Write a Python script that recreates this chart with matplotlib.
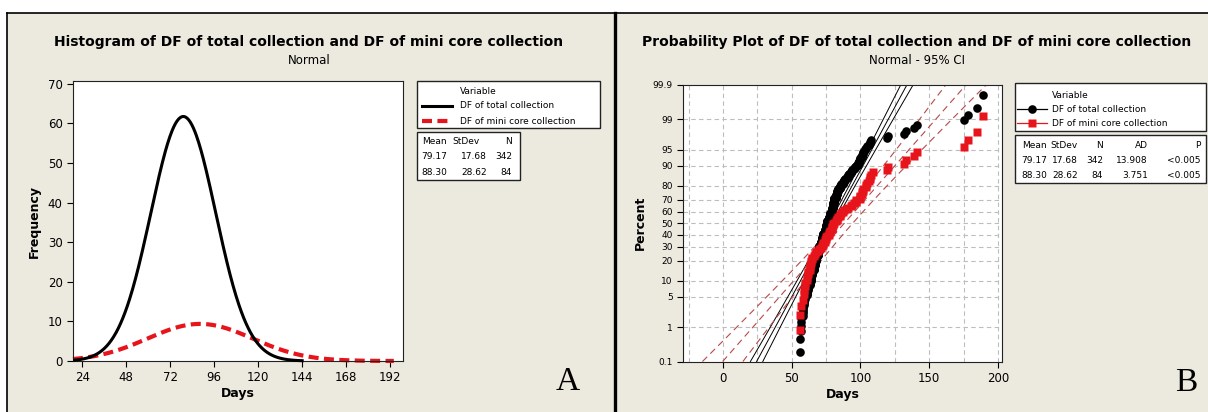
import math
import numpy as np
import matplotlib
matplotlib.use("Agg")
import matplotlib.pyplot as plt
from matplotlib.patches import Rectangle
from matplotlib.lines import Line2D

# ---- data -------------------------------------------------------------
series = ["DF of total collection", "DF of mini core collection"]
means = [79.17, 88.30]
stdevs = [17.68, 28.62]
ns = [342, 84]
ad_vals = ["13.908", "3.751"]
p_vals = ["<0.005", "<0.005"]

bin_width = 8                      # bin width behind the fitted curves
curve_ranges = [(20, 144), (19, 194)]

# days to flowering as (day, count)
total_days = list(range(56, 109)) + [119, 120, 132, 133, 139, 141, 175, 178, 185, 189]
total_counts = [2, 4, 5, 4, 3, 5, 5, 5, 9, 8,
                9, 9, 12, 12, 13, 11, 12, 12, 12, 13,
                13, 12, 12, 14, 15, 13, 9, 8, 6, 6,
                4, 4, 4, 3, 3, 3, 3, 3, 3, 2,
                2, 2, 3, 3, 3, 3, 3, 2, 1, 1,
                1, 2, 1] + [1] * 10

mini_days = [56, 57, 58, 59, 60, 61, 62, 63, 64, 65, 66, 67, 68, 69, 70, 71,
             72, 73, 74, 75, 76, 77, 78, 79, 80, 81, 82, 83, 84, 85, 86, 87,
             88, 90, 91, 93, 94, 95, 97, 100, 101, 102, 104, 105, 106, 107, 108, 109,
             119, 120, 132, 133, 139, 141, 175, 178, 185, 189]
mini_counts = [2, 1, 1, 2, 2, 2, 2, 3, 2, 2, 1, 1, 1, 1, 1, 1,
               1, 2, 2, 2, 1, 2, 2, 3, 2, 1, 1, 2, 1, 2, 1, 1,
               1, 1, 1, 1, 1, 1, 2, 3, 2, 2, 2, 1, 1, 2, 1, 1,
               1, 1, 1, 1, 1, 1, 1, 1, 1, 1]

hist_xticks = [24, 48, 72, 96, 120, 144, 168, 192]
hist_yticks = [0, 10, 20, 30, 40, 50, 60, 70]
prob_xticks = [0, 50, 100, 150, 200]
prob_yticks = [0.1, 1, 5, 10, 20, 30, 40, 50, 60, 70, 80, 90, 95, 99, 99.9]

# ---- helpers ----------------------------------------------------------
W, H = 1208, 412
BG = "#ece9df"
RED = "#e8141b"
DRED = "#b84848"


def norm_cdf(z):
    return 0.5 * (1 + math.erf(z / math.sqrt(2)))


def norm_ppf(p):
    lo, hi = -10.0, 10.0
    for _ in range(80):
        mid = (lo + hi) / 2
        if norm_cdf(mid) < p:
            lo = mid
        else:
            hi = mid
    return (lo + hi) / 2


def fx(x):
    return x / W


def fy(y):
    return 1 - y / H


def box(x0, y0, x1, y1):
    fig.add_artist(Rectangle((fx(x0), fy(y1)), fx(x1) - fx(x0), fy(y0) - fy(y1),
                             transform=fig.transFigure, facecolor="white",
                             edgecolor="#222222", lw=1.0))


def ftext(x, y, s, **kw):
    kw.setdefault("fontsize", 6.5)
    kw.setdefault("va", "center")
    fig.text(fx(x), fy(y), s, **kw)


plt.rcParams["font.family"] = ["DejaVu Sans"]
fig = plt.figure(figsize=(W / 100, H / 100), dpi=100)
fig.patch.set_facecolor("white")

# panel backgrounds and frame (kept behind the axes)
fig.add_artist(Rectangle((fx(7), 0), fx(W) - fx(7), fy(13), transform=fig.transFigure,
                         facecolor=BG, edgecolor="none", zorder=-2))
fig.add_artist(Line2D([fx(7), fx(W)], [fy(13), fy(13)], transform=fig.transFigure, color="black", lw=1.2, zorder=-1))
fig.add_artist(Line2D([fx(7), fx(7)], [0, fy(13)], transform=fig.transFigure, color="black", lw=1.2, zorder=-1))
fig.add_artist(Line2D([fx(614.5), fx(614.5)], [0, fy(13)], transform=fig.transFigure, color="black", lw=2.4, zorder=-1))

# ---- panel A: fitted normal curves ------------------------------------
ax1 = fig.add_axes([fx(73), fy(361), fx(403) - fx(73), fy(81) - fy(361)])
ax1.set_facecolor("white")
styles = [dict(color="black", lw=2.2, ls="-"),
          dict(color=RED, lw=3.0, ls=(0, (2.4, 1.3)))]
for i in range(2):
    x = np.linspace(curve_ranges[i][0], curve_ranges[i][1], 300)
    y = ns[i] * bin_width * np.exp(-0.5 * ((x - means[i]) / stdevs[i]) ** 2) / (stdevs[i] * math.sqrt(2 * math.pi))
    ax1.plot(x, y, **styles[i], zorder=3 - i, clip_on=False)
ax1.set_xlim(19, 199)
ax1.set_ylim(0, 70.7)
ax1.set_xticks(hist_xticks)
ax1.set_yticks(hist_yticks)
ax1.tick_params(direction="out", length=4, labelsize=8.5, width=0.8)
ax1.set_xlabel("Days", fontsize=9, fontweight="bold", labelpad=2)
ax1.set_ylabel("Frequency", fontsize=9, fontweight="bold", labelpad=5)
for sp in ax1.spines.values():
    sp.set_color("#222222")

fig.text(fx(309), fy(42), "Histogram of DF of total collection and DF of mini core collection",
         ha="center", va="center", fontsize=10, fontweight="bold")
fig.text(fx(309), fy(60), "Normal", ha="center", va="center", fontsize=8.5)

# legend + stats (panel A)
box(417, 81, 600, 128)
ftext(460, 92, "Variable")
fig.add_artist(Line2D([fx(422), fx(452)], [fy(106), fy(106)], transform=fig.transFigure, color="black", lw=2.2))
fig.add_artist(Line2D([fx(422), fx(452)], [fy(121), fy(121)], transform=fig.transFigure,
                      color=RED, lw=3.0, ls=(0, (2.4, 1.3))))
ftext(460, 106, series[0])
ftext(460, 121, series[1])
box(417, 132, 520, 180)
ftext(447, 142, "Mean", ha="right")
ftext(480, 142, "StDev", ha="right")
ftext(512, 142, "N", ha="right")
for i in range(2):
    yy = 157 + 15 * i
    ftext(447, yy, "%.2f" % means[i], ha="right")
    ftext(487, yy, "%.2f" % stdevs[i], ha="right")
    ftext(512, yy, str(ns[i]), ha="right")

fig.text(fx(568), fy(382), "A", ha="center", va="center", fontsize=24, family="Liberation Serif")

# ---- panel B: normal probability plot ---------------------------------
ax2 = fig.add_axes([fx(683), fy(361.5), fx(1002) - fx(683), fy(85) - fy(361.5)])
ax2.set_facecolor("white")
zlim = norm_ppf(0.999)
for gx in range(-25, 201, 25):
    ax2.axvline(gx, color="#bdbdbd", lw=0.8, ls=(0, (4, 3)), zorder=0)
for p in prob_yticks[1:-1]:
    ax2.axhline(norm_ppf(p / 100), color="#bdbdbd", lw=0.8, ls=(0, (4, 3)), zorder=0)

zz = np.linspace(-zlim, zlim, 50)
for i in range(2):
    fit = means[i] + stdevs[i] * zz
    se = stdevs[i] * np.sqrt(1 / ns[i] + zz ** 2 / (2 * ns[i]))
    if i == 0:
        kw = dict(color="black", lw=0.7, ls="-")
    else:
        kw = dict(color=DRED, lw=0.8, ls=(0, (6, 4)))
    for line in (fit - 1.96 * se, fit, fit + 1.96 * se):
        ax2.plot(line, zz, zorder=2, **kw)

marks = [dict(marker="o", color="black", ms=6.2),
         dict(marker="s", color=RED, ms=6.0)]
datasets = [(total_days, total_counts), (mini_days, mini_counts)]
for i in range(2):
    vals = np.repeat(datasets[i][0], datasets[i][1])
    n = len(vals)
    ranks = np.arange(1, n + 1)
    pos = [norm_ppf((r - 0.3) / (n + 0.4)) for r in ranks]
    ax2.plot(np.sort(vals), pos, ls="none", mec="none", zorder=3 + i, **marks[i])

ax2.set_xlim(-29, 203)
ax2.set_ylim(-zlim, zlim)
ax2.set_xticks(prob_xticks)
ax2.set_yticks([norm_ppf(p / 100) for p in prob_yticks])
ax2.set_yticklabels([("%g" % p) for p in prob_yticks])
ax2.tick_params(axis="x", direction="out", length=4, labelsize=8.5, width=0.8)
ax2.tick_params(axis="y", direction="out", length=4, labelsize=6.5, width=0.8)
ax2.set_xlabel("Days", fontsize=9, fontweight="bold", labelpad=2)
ax2.set_ylabel("Percent", fontsize=9, fontweight="bold", labelpad=4)
for sp in ax2.spines.values():
    sp.set_color("#222222")

fig.text(fx(917), fy(42), "Probability Plot of DF of total collection and DF of mini core collection",
         ha="center", va="center", fontsize=10, fontweight="bold")
fig.text(fx(917), fy(60), "Normal - 95% CI", ha="center", va="center", fontsize=8.5)

# legend + stats (panel B)
box(1015, 83, 1206, 131)
ftext(1052, 95, "Variable")
for i, yy in enumerate([109, 123]):
    c = "black" if i == 0 else RED
    fig.add_artist(Line2D([fx(1017), fx(1047)], [fy(yy), fy(yy)], transform=fig.transFigure,
                          color=c, lw=0.9))
    fig.add_artist(Line2D([fx(1032)], [fy(yy)], transform=fig.transFigure, ls="none",
                          mec="none", **marks[i]))
    ftext(1052, yy, series[i])
box(1015, 135, 1206, 183)
cols = [1047, 1078, 1103, 1148, 1200]
heads = ["Mean", "StDev", "N", "AD", "P"]
for c, h in zip(cols, heads):
    ftext(c, 146, h, ha="right")
for i in range(2):
    yy = 161 + 15 * i
    row = ["%.2f" % means[i], "%.2f" % stdevs[i], str(ns[i]), ad_vals[i], p_vals[i]]
    for c, s in zip(cols, row):
        ftext(c, yy, s, ha="right")

fig.text(fx(1186), fy(383), "B", ha="center", va="center", fontsize=24, family="Liberation Serif")

fig.savefig("out.png", dpi=100, facecolor=fig.get_facecolor())
